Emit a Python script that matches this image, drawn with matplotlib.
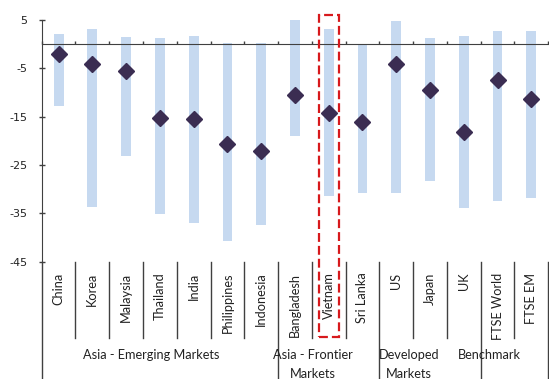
import matplotlib
matplotlib.use("Agg")
import matplotlib.pyplot as plt
from matplotlib.patches import Rectangle
import numpy as np

plt.rcParams['axes.unicode_minus'] = False

countries = ['China', 'Korea', 'Malaysia', 'Thailand', 'India', 'Philippines', 'Indonesia',
             'Bangladesh', 'Vietnam', 'Sri Lanka', 'US', 'Japan', 'UK', 'FTSE World', 'FTSE EM']
high = [2.1, 3.1, 1.4, 1.2, 1.7, 0.3, 0.3, 5.2, 3.1, 0.1, 4.8, 1.2, 1.8, 2.8, 2.7]
low = [-12.8, -33.7, -23.2, -35.2, -37.0, -40.8, -37.5, -19.0, -31.4, -30.8, -30.8, -28.3, -33.9, -32.5, -31.9]
current = [-2.1, -4.0, -5.6, -15.2, -15.4, -20.6, -22.1, -10.4, -14.2, -16.1, -4.0, -9.5, -18.2, -7.3, -11.3]

groups = ['Asia - Emerging Markets', 'Asia - Frontier\nMarkets', 'Developed\nMarkets', 'Benchmark']
group_sizes = [7, 3, 3, 2]
group_label_x = [2.73, 7.52, 10.38, 12.75]
highlight = 'Vietnam'

label_font = 'Lato'
line_col = '#404040'

fig = plt.figure(figsize=(5.49, 3.79), dpi=100)
ax = fig.add_axes([0.076, 0.3095, 0.9225, 0.6375])

x = np.arange(len(countries))
ax.bar(x, np.array(high) - np.array(low), bottom=low, width=0.29, color='#c6d9f0', zorder=2)
ax.plot(x, current, linestyle='none', marker='D', markersize=7.8, color='#3b2d52', zorder=3)

ax.set_xlim(-0.5, len(countries) - 0.5)
ax.set_ylim(-45, 5)
ax.set_yticks([5, -5, -15, -25, -35, -45])
ax.tick_params(axis='y', direction='inout', length=5, width=1, color=line_col,
               labelsize=8, pad=8, labelcolor='#222222')

ax.spines['top'].set_visible(False)
ax.spines['right'].set_visible(False)
ax.spines['bottom'].set_position(('data', 0))
ax.spines['bottom'].set_color(line_col)
ax.spines['left'].set_color(line_col)
ax.set_xticks(np.arange(-0.5, len(countries), 1.0))
ax.set_xticklabels([])
ax.tick_params(axis='x', direction='in', length=2.5, width=1, color=line_col)

# category label area
trans = ax.get_xaxis_transform()
bounds = np.cumsum([0] + group_sizes) - 0.5
for b in np.arange(-0.5, len(countries), 1.0):
    y_end = -0.485 if np.any(np.isclose(bounds, b)) else -0.316
    ax.plot([b, b], [0, y_end], transform=trans, color=line_col, lw=1, clip_on=False)

for i, name in enumerate(countries):
    ax.text(i, -0.045, name, transform=trans, rotation=90, ha='center', va='top',
            fontsize=9.2, family=label_font, color='#222222')

for gx, g in zip(group_label_x, groups):
    ax.text(gx, -0.362, g, transform=trans, ha='center', va='top', fontsize=9.2,
            family=label_font, color='#222222', linespacing=1.65)

# highlight box
hi = countries.index(highlight)
box = Rectangle((hi - 0.3, -60.6), 0.6, 66.6, fill=False, edgecolor='#d7191c', lw=1.6,
                linestyle=(0, (4, 1.8)), clip_on=False, zorder=4)
ax.add_patch(box)

fig.savefig('out.png', dpi=100)
